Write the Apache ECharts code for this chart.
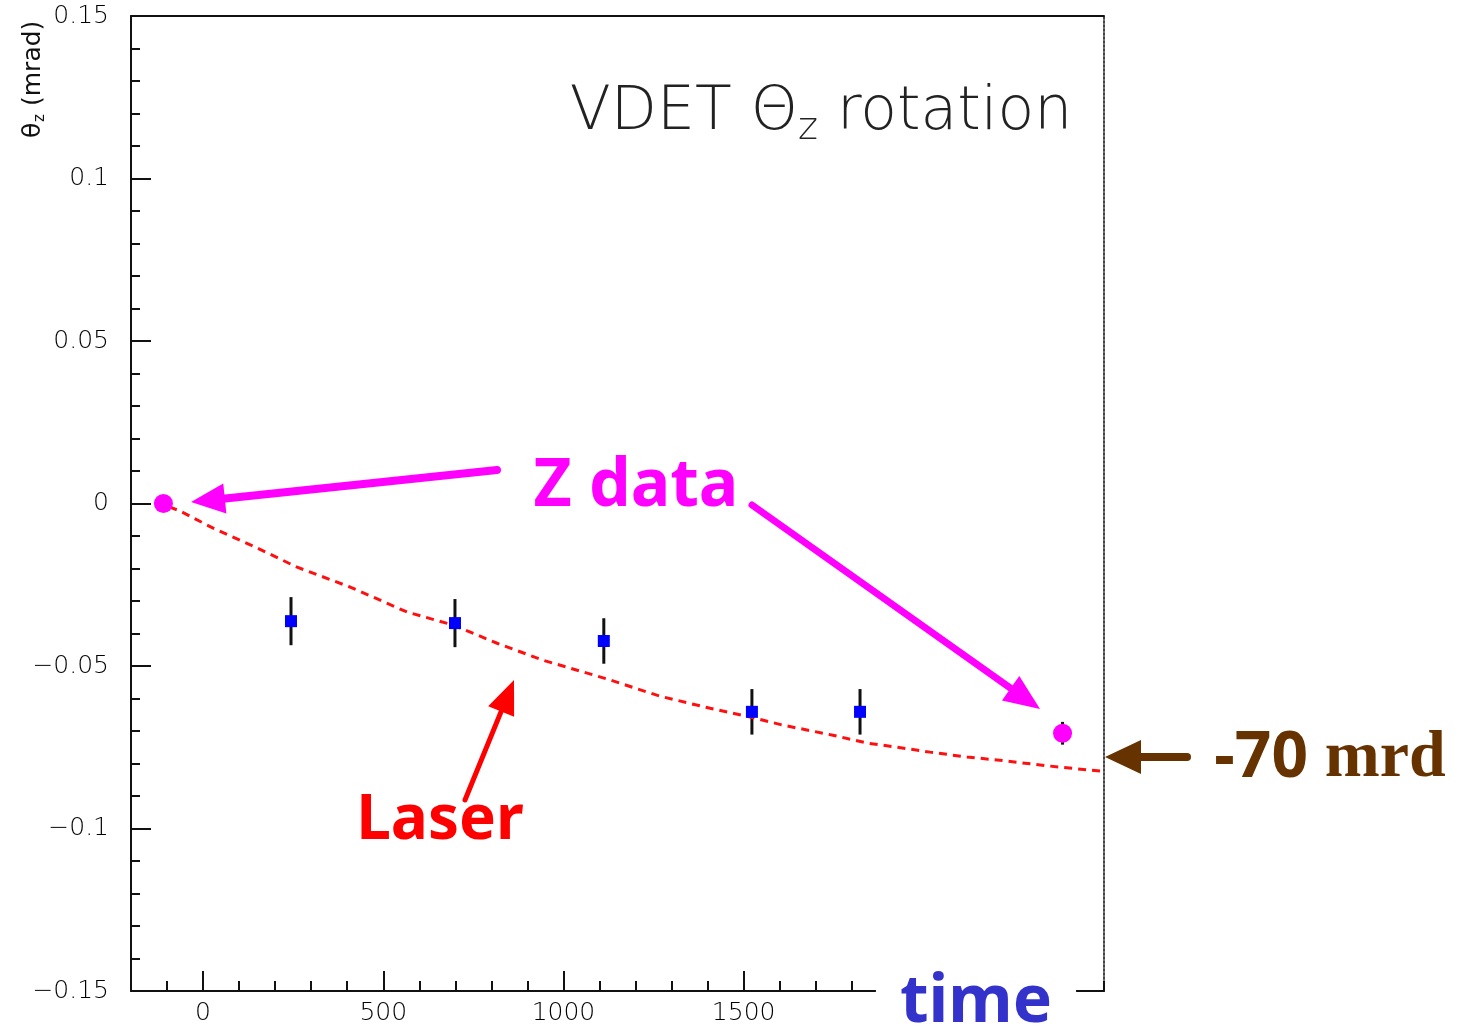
<!DOCTYPE html>
<html>
<head>
<meta charset="utf-8">
<title>VDET θz rotation</title>
<script src="https://cdn.jsdelivr.net/npm/echarts@6/dist/echarts.min.js"></script>
<style>
  html, body { margin: 0; padding: 0; background: #ffffff; }
  #chart { width: 1475px; height: 1036px; }
</style>
</head>
<body>
<div id="chart"></div>
<script>
// Laser-measured rotation (red dashed curve)
const laserTime  = [-130, -64, 28, 139, 261, 408, 566, 694, 816, 943, 1121, 1268, 1407, 1518, 1609, 1748, 1842, 1926, 2017, 2120, 2211, 2350, 2495];
const laserTheta = [0.0005, -0.0023, -0.0076, -0.0131, -0.0196, -0.0257, -0.0334, -0.0374, -0.0430, -0.0482, -0.0540, -0.0593, -0.0630, -0.0657, -0.0682, -0.0713, -0.0737, -0.0750, -0.0765, -0.0780, -0.0790, -0.0808, -0.0824];

// Track-based measurements (blue points with error bars)
const vdetTime  = [244, 699, 1112, 1523, 1823];
const vdetTheta = [-0.0362, -0.0368, -0.0423, -0.0641, -0.0641];
const vdetErr   = [0.0074, 0.0074, 0.0070, 0.0070, 0.0070];

// Z data (magenta points)
const zTime  = [-110, 2385];
const zTheta = [0, -0.0707];
const zErr   = [0, 0.0035];

// Axis ranges and labelled ticks
const timeMin = -200, timeMax = 2500;
const timeMajor = [0, 500, 1000, 1500, 2000];
const timeLabels = [0, 500, 1000, 1500];
const thetaMin = -0.15, thetaMax = 0.15, thetaStep = 0.05;

const thinFont = 'DejaVu Sans';
const boldFont = 'Noto Sans';

const chart = echarts.init(document.getElementById('chart'), null, { renderer: 'canvas' });

function fmtTheta(v) {
  const r = Math.round(v * 100) / 100;
  return r < 0 ? '\u2212' + String(-r) : String(r);
}

function fmtTime(v) {
  return String(Math.round(v));
}

function arrow(x1, y1, x2, y2, color, width, headLen, headHalf) {
  const dx = x2 - x1, dy = y2 - y1;
  const len = Math.sqrt(dx * dx + dy * dy);
  const ux = dx / len, uy = dy / len;
  const bx = x2 - ux * headLen, by = y2 - uy * headLen;
  const px = -uy, py = ux;
  return [
    {
      type: 'line', z: 100,
      shape: { x1: x1, y1: y1, x2: bx + ux * 2, y2: by + uy * 2 },
      style: { stroke: color, lineWidth: width, lineCap: 'round' }
    },
    {
      type: 'polygon', z: 100,
      shape: { points: [[x2, y2], [bx + px * headHalf, by + py * headHalf], [bx - px * headHalf, by - py * headHalf]] },
      style: { fill: color }
    }
  ];
}

const laserData = laserTime.map((t, i) => [t, laserTheta[i]]);
const vdetData = vdetTime.map((t, i) => [t, vdetTheta[i], vdetErr[i]]);
const zData = zTime.map((t, i) => [t, zTheta[i], zErr[i]]);

function errorBarItem(params, api) {
  const x = api.value(0), y = api.value(1), e = api.value(2);
  if (!e) return null;
  const lo = api.coord([x, y - e]);
  const hi = api.coord([x, y + e]);
  return {
    type: 'line',
    shape: { x1: lo[0], y1: lo[1], x2: hi[0], y2: hi[1] },
    style: { stroke: '#111111', lineWidth: 3 }
  };
}

const option = {
  animation: false,
  backgroundColor: '#ffffff',
  grid: { left: 131, top: 16, width: 973, height: 975, containLabel: false },
  xAxis: [
    {
      // minor ticks every 100
      type: 'value', position: 'bottom', min: timeMin, max: timeMax, interval: 100,
      axisLine: { show: true, onZero: false, lineStyle: { color: '#111111', width: 2 } },
      axisTick: { show: true, inside: true, length: 10, lineStyle: { color: '#111111', width: 2 } },
      axisLabel: { show: false },
      splitLine: { show: false }
    },
    {
      // major ticks and labels
      type: 'value', position: 'bottom', min: timeMin, max: timeMax,
      axisLine: { show: false, onZero: false },
      axisTick: { show: true, inside: true, length: 20, customValues: timeMajor, lineStyle: { color: '#111111', width: 2 } },
      axisLabel: {
        show: true, customValues: timeLabels, margin: 10, formatter: fmtTime,
        fontFamily: thinFont, fontWeight: 300, fontSize: 25, color: '#000000'
      },
      splitLine: { show: false }
    },
    {
      // top frame
      type: 'value', position: 'top', min: timeMin, max: timeMax,
      axisLine: { show: true, onZero: false, lineStyle: { color: '#111111', width: 2 } },
      axisTick: { show: false }, axisLabel: { show: false }, splitLine: { show: false }
    }
  ],
  yAxis: [
    {
      type: 'value', position: 'left', min: thetaMin, max: thetaMax, interval: thetaStep,
      axisLine: { show: true, onZero: false, lineStyle: { color: '#111111', width: 2 } },
      axisTick: { show: true, inside: true, length: 20, lineStyle: { color: '#111111', width: 2 } },
      minorTick: { show: true, splitNumber: 5, length: 9, lineStyle: { color: '#111111', width: 2 } },
      axisLabel: {
        show: true, margin: 22, formatter: fmtTheta,
        fontFamily: thinFont, fontWeight: 300, fontSize: 25, color: '#000000'
      },
      splitLine: { show: false }, minorSplitLine: { show: false }
    },
    {
      // right frame, dotted
      type: 'value', position: 'right', min: thetaMin, max: thetaMax,
      axisLine: { show: true, onZero: false, lineStyle: { color: '#444444', width: 2, type: [2, 2] } },
      axisTick: { show: false }, axisLabel: { show: false }, splitLine: { show: false }
    }
  ],
  series: [
    {
      name: 'Laser', type: 'line', xAxisIndex: 0, yAxisIndex: 0,
      data: laserData, symbol: 'none', smooth: false, z: 3,
      lineStyle: { color: '#ff1010', width: 3, type: [8, 6] }
    },
    {
      name: 'VDET errors', type: 'custom', xAxisIndex: 0, yAxisIndex: 0,
      data: vdetData, renderItem: errorBarItem, z: 2
    },
    {
      name: 'VDET', type: 'scatter', xAxisIndex: 0, yAxisIndex: 0,
      data: vdetData, symbol: 'rect', symbolSize: 12, z: 4,
      itemStyle: { color: '#0000ff', opacity: 1 }
    },
    {
      name: 'Z errors', type: 'custom', xAxisIndex: 0, yAxisIndex: 0,
      data: zData, renderItem: errorBarItem, z: 2
    },
    {
      name: 'Z data', type: 'scatter', xAxisIndex: 0, yAxisIndex: 0,
      data: zData, symbol: 'circle', symbolSize: 19, z: 5,
      itemStyle: { color: '#ff00ff', opacity: 1 }
    }
  ],
  graphic: [
    {
      // rotated y-axis title: θz (mrad)
      type: 'group', z: 100, x: 33, y: 78, rotation: Math.PI / 2,
      children: [
        {
          type: 'text', x: -60, y: 0,
          style: { text: 'θ', fontFamily: thinFont, fontSize: 25, fill: '#111111', align: 'left', verticalAlign: 'middle' }
        },
        {
          type: 'text', x: -44, y: 7,
          style: { text: 'z', fontFamily: thinFont, fontSize: 15, fill: '#111111', align: 'left', verticalAlign: 'middle' }
        },
        {
          type: 'text', x: -28, y: 0,
          style: { text: '(mrad)', fontFamily: thinFont, fontSize: 25, fill: '#111111', align: 'left', verticalAlign: 'middle' }
        }
      ]
    },
    {
      type: 'text', z: 100, x: 821, y: 113,
      style: {
        text: '{a|VDET Θ}{s|z}{a| rotation}',
        align: 'center', verticalAlign: 'middle',
        rich: {
          a: { fontFamily: thinFont, fontWeight: 200, fontSize: 60, fill: '#222222', lineHeight: 70 },
          s: { fontFamily: thinFont, fontWeight: 200, fontSize: 38, fill: '#222222', lineHeight: 30, verticalAlign: 'bottom' }
        }
      }
    },
    {
      type: 'text', z: 100, x: 636, y: 487,
      style: { text: 'Z data', align: 'center', verticalAlign: 'middle', fontFamily: boldFont, fontWeight: 'bold', fontSize: 66, fill: '#ff00ff' }
    },
    {
      type: 'text', z: 100, x: 440, y: 821,
      style: { text: 'Laser', align: 'center', verticalAlign: 'middle', fontFamily: boldFont, fontWeight: 'bold', fontSize: 62, fill: '#ff0000' }
    },
    {
      type: 'text', z: 100, x: 1330, y: 759,
      style: {
        text: '{a|-70 }{b|mrd}',
        align: 'center', verticalAlign: 'middle',
        rich: {
          a: { fontFamily: boldFont, fontWeight: 'bold', fontSize: 64, fill: '#663300' },
          b: { fontFamily: 'Liberation Serif', fontWeight: 'bold', fontSize: 66, fill: '#663300' }
        }
      }
    },
    {
      type: 'text', z: 100, x: 976, y: 1003,
      style: {
        text: 'time', align: 'center', verticalAlign: 'middle',
        fontFamily: boldFont, fontWeight: 'bold', fontSize: 66, fill: '#3333cc',
        backgroundColor: '#ffffff', padding: [0, 24, 0, 24]
      }
    }
  ]
    .concat(arrow(497, 470, 191, 502, '#ff00ff', 8, 34, 15))
    .concat(arrow(752, 505, 1040, 709, '#ff00ff', 7, 36, 15))
    .concat(arrow(465, 800, 514, 680, '#ff0000', 5, 34, 14))
    .concat(arrow(1187, 757, 1105, 757, '#663300', 8, 36, 17))
};

chart.setOption(option);
</script>
</body>
</html>
